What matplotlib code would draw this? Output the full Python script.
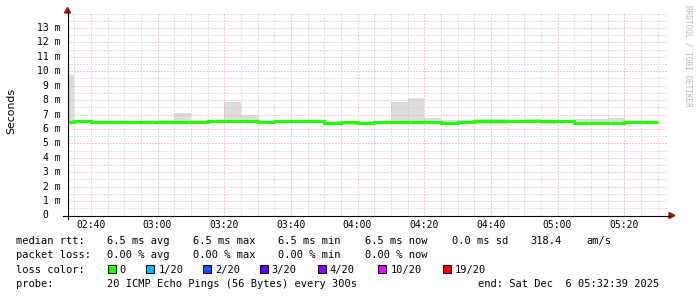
import numpy as np
import matplotlib
matplotlib.use("Agg")
import matplotlib.pyplot as plt
from matplotlib.lines import Line2D
from matplotlib.patches import Polygon, Rectangle
from matplotlib.transforms import blended_transform_factory

# 5 minute bins, times in minutes after midnight (first bin is partial)
bin_edges = [152 + 39 / 60] + list(range(155, 331, 5))

median_ms = [6.48, 6.52, 6.45, 6.45, 6.45, 6.50, 6.50, 6.48, 6.45, 6.55,
             6.57, 6.57, 6.45, 6.52, 6.52, 6.52, 6.44, 6.45, 6.44, 6.48,
             6.48, 6.48, 6.48, 6.42, 6.46, 6.54, 6.52, 6.55, 6.55, 6.55,
             6.55, 6.44, 6.44, 6.44, 6.50, 6.50]
smoke_hi_ms = [9.75, 6.58, 6.52, 6.52, 6.52, 6.56, 6.64, 7.12, 6.64, 6.62,
               7.84, 6.98, 6.52, 6.57, 6.57, 6.57, 6.52, 6.52, 6.52, 6.56,
               7.84, 8.16, 6.78, 6.60, 6.63, 6.70, 6.70, 6.62, 6.68, 6.60,
               6.60, 6.66, 6.66, 6.78, 6.57, 6.54]
smoke_lo_ms = [6.40, 6.42, 6.38, 6.38, 6.38, 6.33, 6.42, 6.36, 6.38, 6.46,
               6.48, 6.48, 6.38, 6.44, 6.44, 6.44, 6.37, 6.30, 6.37, 6.40,
               6.40, 6.40, 6.40, 6.35, 6.39, 6.36, 6.36, 6.47, 6.47, 6.36,
               6.47, 6.37, 6.37, 6.37, 6.42, 6.34]

x_ticks = [160, 180, 200, 220, 240, 260, 280, 300, 320]
x_labels = ["02:40", "03:00", "03:20", "03:40", "04:00",
            "04:20", "04:40", "05:00", "05:20"]
y_ticks = list(range(0, 14))

rtt_stats = ["6.5 ms avg", "6.5 ms max", "6.5 ms min", "6.5 ms now",
             "0.0 ms sd", "318.4", "am/s"]
loss_stats = ["0.00 % avg", "0.00 % max", "0.00 % min", "0.00 % now"]
loss_names = ["0", "1/20", "2/20", "3/20", "4/20", "10/20", "19/20"]
loss_colors = ["#26ff00", "#00b8ff", "#0059ff", "#5e00ff",
               "#7e00ff", "#dd00ff", "#ff0000"]
probe_text = "20 ICMP Echo Pings (56 Bytes) every 300s"
end_text = "end: Sat Dec  6 05:32:39 2025"

W, H = 697, 297
MONO = "DejaVu Sans Mono"


def px(x, y):
    return x / W, 1 - y / H


fig = plt.figure(figsize=(W / 100, H / 100), dpi=100)
fig.patch.set_facecolor("white")
ax = fig.add_axes([67.5 / W, (H - 215.5) / H, 600 / W, 202 / H])
ax.set_xlim(153, 333)
ax.set_ylim(0, 14)

# smoke + median
ax.stairs(smoke_hi_ms, bin_edges, baseline=smoke_lo_ms, fill=True,
          color="#dcdcdc", linewidth=0, zorder=1)
ax.stairs(median_ms, bin_edges, baseline=None, color=loss_colors[0],
          linewidth=2.3, zorder=3)

# grid
ax.set_xticks(x_ticks, x_labels)
ax.set_xticks([t for t in range(155, 331, 5) if t not in x_ticks], minor=True)
ax.set_yticks(y_ticks)
ax.set_yticks([v for v in np.arange(0.5, 14.01, 0.5) if v not in y_ticks],
              minor=True)
ax.set_axisbelow(False)
ax.grid(which="major", color="#e6a0a0", linewidth=0.72, linestyle=(0, (1, 2)))
ax.grid(which="minor", color="#c4c4c4", linewidth=0.72, linestyle=(0, (1, 2)))
ax.tick_params(which="both", length=0, labelleft=False, pad=3)
for lab in ax.get_xticklabels():
    lab.set_fontfamily(MONO)
    lab.set_fontsize(7)
for s in ax.spines.values():
    s.set_visible(False)

# y tick labels
tr = blended_transform_factory(fig.transFigure, ax.transData)
for v in y_ticks:
    if v == 0:
        ax.text(48.5 / W, v, "0", transform=tr, ha="right", va="center",
                fontsize=7, family=MONO, clip_on=False)
    else:
        ax.text(60.5 / W, v, "%d m" % v, transform=tr, ha="right",
                va="center", fontsize=7, family=MONO, clip_on=False)

# axes lines and arrows
fig.add_artist(Line2D(*zip(px(67.5, 219), px(67.5, 12)), color="black",
                      linewidth=0.8))
fig.add_artist(Line2D(*zip(px(63, 215.5), px(670, 215.5)), color="black",
                      linewidth=0.8))
fig.add_artist(Polygon([px(64.5, 13), px(70.5, 13), px(67.5, 7.5)],
                       closed=True, color="#8b1c1c", transform=fig.transFigure))
fig.add_artist(Polygon([px(669, 212.5), px(669, 218.5), px(675, 215.5)],
                       closed=True, color="#8b1c1c", transform=fig.transFigure))

fig.text(*px(11, 111), "Seconds", rotation=90, ha="center", va="center",
         fontsize=7.8, family="DejaVu Sans")
fig.text(*px(688, 5), "RRDTOOL / TOBI OETIKER", rotation=270, ha="center",
         va="top", fontsize=5.6, family=MONO, color="#b8b8b8")

# legend
rows = [244, 258.3, 272.6, 286.9]
fig.text(*px(16, rows[0]), "median rtt:", family=MONO, fontsize=7.5, va="baseline")
for x, s in zip([107, 193, 278, 365, 452, 530, 586], rtt_stats):
    fig.text(*px(x, rows[0]), s, family=MONO, fontsize=7.5, va="baseline")

fig.text(*px(16, rows[1]), "packet loss:", family=MONO, fontsize=7.5, va="baseline")
for x, s in zip([107, 193, 278, 365], loss_stats):
    fig.text(*px(x, rows[1]), s, family=MONO, fontsize=7.5, va="baseline")

fig.text(*px(16, rows[2]), "loss color:", family=MONO, fontsize=7.5, va="baseline")
for x, name, c in zip([107, 145.7, 202.7, 259, 317, 377.7, 442.3],
                      loss_names, loss_colors):
    fig.add_artist(Rectangle(px(x + 0.5, 273), 8 / W, 8 / H, facecolor=c,
                             edgecolor="black", linewidth=0.7,
                             transform=fig.transFigure))
    fig.text(*px(x + 12.7, rows[2]), name, family=MONO, fontsize=7.5,
             va="baseline")

fig.text(*px(16, rows[3]), "probe:", family=MONO, fontsize=7.5, va="baseline")
fig.text(*px(107, rows[3]), probe_text, family=MONO, fontsize=7.5, va="baseline")
fig.text(*px(478, rows[3]), end_text, family=MONO, fontsize=7.5, va="baseline")

fig.savefig("out.png", dpi=100, facecolor="white")
